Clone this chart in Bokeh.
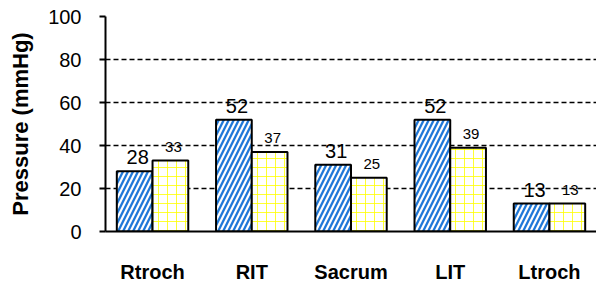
import numpy as np
from bokeh.plotting import figure
from bokeh.models import FixedTicker, ColumnDataSource
from bokeh.core.properties import value
from bokeh.embed import file_html
from bokeh.resources import INLINE

categories = ["Rtroch", "RIT", "Sacrum", "LIT", "Ltroch"]
series_a = [28, 52, 31, 52, 13]
series_b = [33, 37, 25, 39, 13]
y_ticks = [0, 20, 40, 60, 80, 100]

FONT = "Liberation Sans"
xs = np.arange(len(categories))
off = 0.18
bw = 0.36

p = figure(frame_width=491, frame_height=215, output_backend="svg", toolbar_location=None,
           x_range=(-0.474, 4.474), y_range=(0, 100),
           min_border_left=105, min_border_right=0, min_border_top=16, min_border_bottom=53)
p.outline_line_color = None
p.background_fill_color = "white"

src_a = ColumnDataSource(dict(x=xs - off, top=series_a, lab=[str(v) for v in series_a]))
src_b = ColumnDataSource(dict(x=xs + off, top=series_b, lab=[str(v) for v in series_b]))

p.vbar(x="x", top="top", width=bw, bottom=0, source=src_a,
       fill_color="white", line_color="black", line_width=2,
       hatch_pattern="/", hatch_color="#1f78d8", hatch_scale=10, hatch_weight=2.3)
p.vbar(x="x", top="top", width=bw, bottom=0, source=src_b,
       fill_color="white", line_color="black", line_width=2,
       hatch_pattern="+", hatch_color="#ffff00", hatch_scale=9, hatch_weight=1, hatch_alpha=0.8)

p.text(x="x", y="top", text="lab", source=src_a, text_font=value(FONT),
       text_font_size="20px", text_align="center", text_baseline="alphabetic",
       x_offset=3, y_offset=-14, text_color="black")
p.text(x="x", y="top", text="lab", source=src_b, text_font=value(FONT),
       text_font_size="15px", text_align="center", text_baseline="alphabetic",
       x_offset=3, y_offset=-14, text_color="black")

# axes
p.xaxis.ticker = FixedTicker(ticks=list(xs))
p.xaxis.major_label_overrides = {int(i): c for i, c in zip(xs, categories)}
p.xaxis.major_label_text_font = FONT
p.xaxis.major_label_text_font_style = "bold"
p.xaxis.major_label_text_font_size = "20px"
p.xaxis.major_label_text_color = "black"
p.xaxis.major_label_standoff = 23
p.xaxis.major_tick_line_color = None
p.xaxis.minor_tick_line_color = None
p.xaxis.axis_line_color = "black"
p.xaxis.axis_line_width = 2

p.yaxis.ticker = FixedTicker(ticks=y_ticks)
p.yaxis.major_label_text_font = FONT
p.yaxis.major_label_text_font_size = "20px"
p.yaxis.major_label_text_color = "black"
p.yaxis.major_label_standoff = 18
p.yaxis.major_tick_out = 6
p.yaxis.major_tick_in = 0
p.yaxis.major_tick_line_width = 2
p.yaxis.major_tick_line_color = "black"
p.yaxis.minor_tick_line_color = None
p.yaxis.axis_line_color = "black"
p.yaxis.axis_line_width = 2
p.yaxis.axis_label = "Pressure (mmHg)"
p.yaxis.axis_label_text_font = FONT
p.yaxis.axis_label_text_font_style = "bold"
p.yaxis.axis_label_text_font_size = "22px"
p.yaxis.axis_label_text_color = "black"
p.yaxis.axis_label_standoff = 12

p.xgrid.grid_line_color = None
p.ygrid.grid_line_color = "black"
p.ygrid.grid_line_width = 1.5
p.ygrid.grid_line_dash = "5 3"

open("out.html", "w").write(file_html(p, INLINE))
